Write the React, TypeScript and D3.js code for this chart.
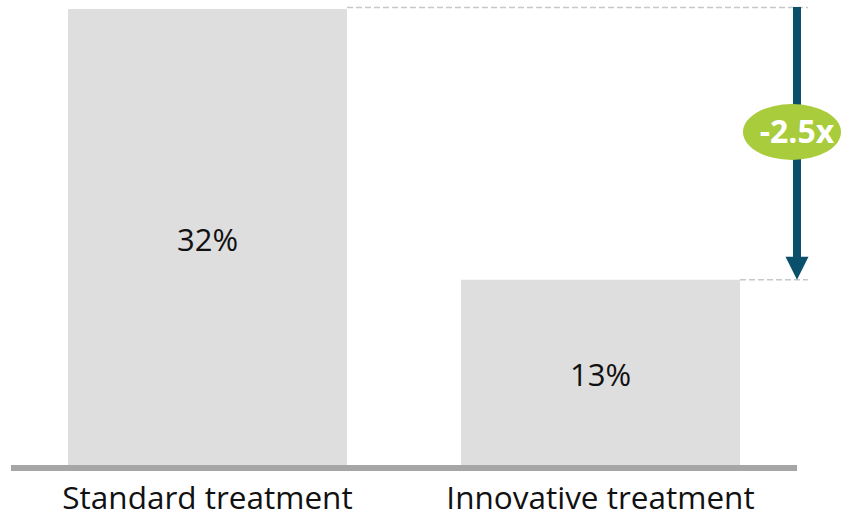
import React from "react";
import * as d3 from "d3";

const categories = ["Standard treatment", "Innovative treatment"];
const values = [32, 13];
const valueLabels = ["32%", "13%"];
const ratioLabel = "-2.5x";

const W = 842;
const H = 519;
const FONT = "'Open Sans', sans-serif";

export default function App() {
  const x = d3
    .scaleBand<string>()
    .domain(categories)
    .range([11, 797])
    .paddingInner(0.29)
    .paddingOuter(0.145);
  const y = d3.scaleLinear().domain([0, 32]).range([465, 9]);

  const bw = x.bandwidth();
  const x0 = x(categories[0])! + bw;
  const x1 = x(categories[1])! + bw;
  const yTop = y(values[0]);
  const yLow = y(values[1]);
  const arrowX = 797;

  return (
    <svg
      width={W}
      height={H}
      style={{ position: "absolute", left: 0, top: 0, display: "block" }}
    >
      <rect width={W} height={H} fill="#ffffff" />
      {categories.map((c, i) => (
        <g key={c}>
          <rect
            x={x(c)}
            y={y(values[i])}
            width={bw}
            height={y(0) - y(values[i])}
            fill="#dedede"
          />
          <text
            x={x(c)! + bw / 2}
            y={(y(values[i]) + y(0)) / 2 + 14}
            textAnchor="middle"
            fontFamily={FONT}
            fontSize={31}
            fill="#111"
          >
            {valueLabels[i]}
          </text>
          <text
            x={x(c)! + bw / 2}
            y={509}
            textAnchor="middle"
            fontFamily={FONT}
            fontSize={31.5}
            fill="#111"
          >
            {c}
          </text>
        </g>
      ))}
      <line x1={11} x2={797} y1={468} y2={468} stroke="#a6a6a6" strokeWidth={6} />
      <line
        x1={x0}
        x2={808}
        y1={yTop - 1.5}
        y2={yTop - 1.5}
        stroke="#c8c8c8"
        strokeWidth={1.5}
        strokeDasharray="6 3"
      />
      <line
        x1={x1}
        x2={808}
        y1={yLow}
        y2={yLow}
        stroke="#c8c8c8"
        strokeWidth={1.5}
        strokeDasharray="6 3"
      />
      <line
        x1={arrowX}
        x2={arrowX}
        y1={yTop - 2}
        y2={yLow - 22}
        stroke="#0b506b"
        strokeWidth={8}
      />
      <path
        d={`M${arrowX - 11.5},${yLow - 23} L${arrowX + 11.5},${yLow - 23} L${arrowX},${yLow} Z`}
        fill="#0b506b"
      />
      <ellipse cx={792} cy={132} rx={49} ry={28} fill="#a9cc3c" />
      <text
        x={797}
        y={143}
        textAnchor="middle"
        fontFamily={FONT}
        fontWeight="bold"
        fontSize={32}
        fill="#ffffff"
      >
        {ratioLabel}
      </text>
    </svg>
  );
}
